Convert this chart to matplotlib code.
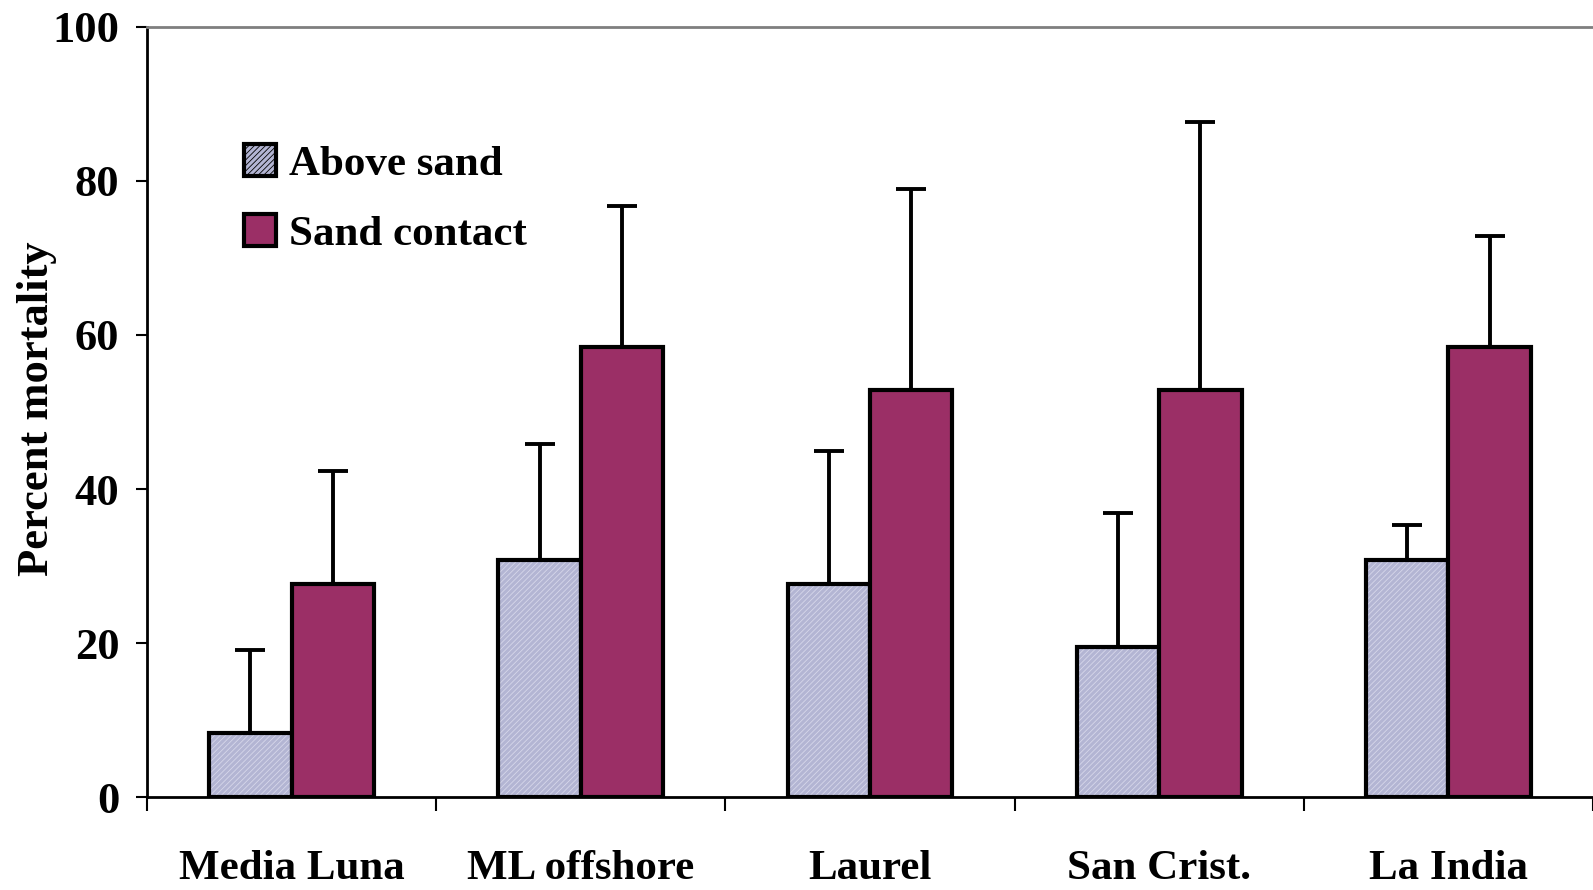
import numpy as np
import matplotlib
matplotlib.use("Agg")
import matplotlib.pyplot as plt
from matplotlib.patches import Patch

# ============================================================
# Chart data.
# ============================================================

sites = ["Media Luna", "ML offshore", "Laurel", "San Crist.", "La India"]
above_sand = [8.3, 30.8, 27.7, 19.5, 30.8]
above_sand_err = [10.8, 15.0, 17.2, 17.4, 4.5]
sand_contact = [27.7, 58.4, 52.8, 52.8, 58.4]
sand_contact_err = [14.6, 18.4, 26.1, 34.9, 14.5]
y_ticks = [0, 20, 40, 60, 80, 100]

# ============================================================
# Styling.
# ============================================================

plt.rcParams["font.family"] = ["Liberation Serif", "DejaVu Serif"]
plt.rcParams["font.weight"] = "bold"
plt.rcParams["hatch.linewidth"] = 0.6

lavender = "#b3b5d3"
hatch_col = "#d6d7ea"
maroon = "#9b2f66"

fig = plt.figure(figsize=(15.93, 8.90), dpi=100)
ax = fig.add_axes([0.0923, 0.104, 0.9077, 0.866])

x = np.arange(len(sites))
width = 0.285

# lavender bars: hatch first, then outline on top
ax.bar(x - width / 2, above_sand, width, color=lavender, edgecolor=hatch_col,
       hatch="//////", linewidth=0, zorder=2)
ax.bar(x - width / 2, above_sand, width, fill=False, edgecolor="black",
       linewidth=3, zorder=3)
ax.bar(x + width / 2, sand_contact, width, color=maroon, edgecolor="black",
       linewidth=3, zorder=3)

ax.errorbar(x - width / 2, above_sand, yerr=[np.zeros(len(x)), above_sand_err],
            fmt="none", ecolor="black", elinewidth=2.8, capsize=11, capthick=2.8,
            zorder=1)
ax.errorbar(x + width / 2, sand_contact, yerr=[np.zeros(len(x)), sand_contact_err],
            fmt="none", ecolor="black", elinewidth=2.8, capsize=11, capthick=2.8,
            zorder=1)

# ============================================================
# Axes, ticks and labels.
# ============================================================

ax.set_ylim(0, 100)
ax.set_xlim(-0.5, 4.46)
ax.set_yticks(y_ticks)
ax.tick_params(axis="y", direction="out", length=8, width=1.5, pad=12,
               labelsize=32)

ax.set_xticks(np.arange(len(sites) + 1) - 0.5)
ax.set_xticklabels([])
ax.tick_params(axis="x", which="major", direction="out", length=10, width=1.5)
ax.set_xticks(x, minor=True)
ax.set_xticklabels(sites, minor=True, fontsize=31, fontweight="bold")
ax.tick_params(axis="x", which="minor", length=0, pad=38)

ax.set_ylabel("Percent mortality", fontsize=32, fontweight="bold")
ax.yaxis.set_label_coords(-0.062, 0.504)

ax.spines["right"].set_visible(False)
ax.spines["top"].set_color("#7f7f7f")
ax.spines["top"].set_linewidth(2.0)
ax.spines["left"].set_linewidth(2.0)
ax.spines["bottom"].set_linewidth(2.0)

handles = [
    Patch(facecolor=lavender, edgecolor="black", linewidth=3, hatch="//////"),
    Patch(facecolor=maroon, edgecolor="black", linewidth=3),
]
ax.legend(handles, ["Above sand", "Sand contact"], loc="upper left",
          bbox_to_anchor=(0.055, 0.87), frameon=False, fontsize=31,
          handlelength=0.75, handleheight=0.75, handletextpad=0.3,
          labelspacing=0.7, borderaxespad=0)

fig.savefig("out.png", dpi=100)
